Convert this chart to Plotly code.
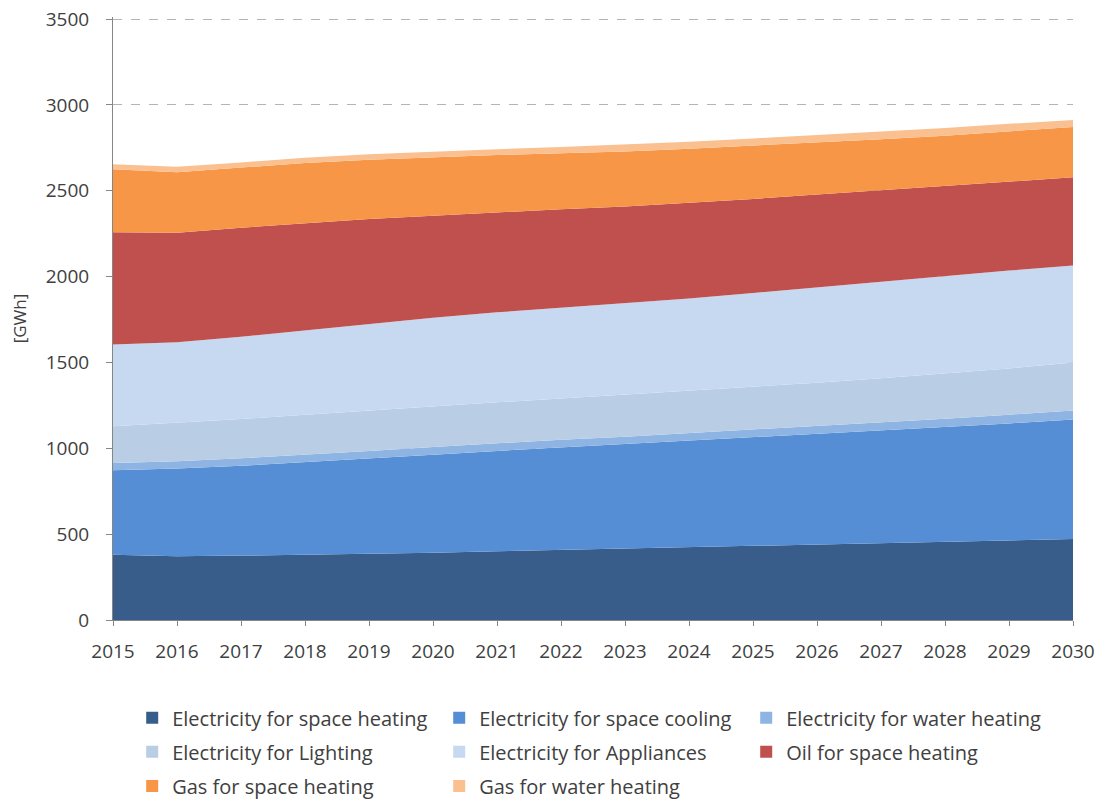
import plotly.graph_objects as go

years = list(range(2015, 2031))

elec_space_heating = [380, 372, 375, 380, 385, 392, 400, 408, 415, 423, 432, 440, 448, 456, 464, 472]
elec_space_cooling = [492, 510, 523, 538, 555, 570, 585, 597, 607, 619, 630, 642, 654, 666, 681, 696]
elec_water_heating = [43, 43, 44, 44, 45, 46, 45, 45, 46, 46, 46, 48, 48, 50, 51, 52]
elec_lighting = [213, 223, 228, 233, 235, 237, 238, 240, 244, 247, 250, 252, 258, 263, 269, 280]
elec_appliances = [477, 470, 480, 493, 505, 515, 524, 528, 530, 537, 547, 556, 562, 570, 570, 565]
oil_space_heating = [653, 637, 635, 624, 610, 595, 583, 574, 566, 556, 547, 540, 532, 523, 517, 513]
gas_space_heating = [367, 353, 350, 350, 345, 340, 333, 326, 320, 317, 310, 302, 298, 292, 293, 294]
gas_water_heating = [30, 32, 30, 30, 32, 33, 34, 37, 40, 40, 43, 45, 45, 45, 45, 40]

series = [
    ("Electricity for space heating", elec_space_heating, "#385D8A"),
    ("Electricity for space cooling", elec_space_cooling, "#558ED5"),
    ("Electricity for water heating", elec_water_heating, "#8EB4E3"),
    ("Electricity for Lighting", elec_lighting, "#B9CDE5"),
    ("Electricity for Appliances", elec_appliances, "#C6D9F1"),
    ("Oil for space heating", oil_space_heating, "#C0504D"),
    ("Gas for space heating", gas_space_heating, "#F79646"),
    ("Gas for water heating", gas_water_heating, "#FAC090"),
]

FONT = "Open Sans, Liberation Sans, Arial, sans-serif"
TEXT = "#404040"

# three legend rows, three entries per row
legend_rows = ["legend", "legend", "legend", "legend2", "legend2", "legend2", "legend3", "legend3"]

fig = go.Figure()
# stacked areas
for name, vals, color in series:
    fig.add_trace(go.Scatter(
        x=years, y=vals, name=name, mode="lines",
        stackgroup="one", line=dict(width=0, color=color),
        fillcolor=color, showlegend=False,
    ))
# square legend keys
for (name, vals, color), row in zip(series, legend_rows):
    fig.add_trace(go.Scatter(
        x=[None], y=[None], name=name, mode="markers",
        marker=dict(symbol="square", size=12, color=color),
        showlegend=True, hoverinfo="skip", legend=row,
    ))

legend_style = dict(
    orientation="h", x=0.02, xanchor="left", yanchor="top",
    entrywidth=262, entrywidthmode="pixels", traceorder="normal",
    font=dict(family=FONT, size=20, color=TEXT),
    bgcolor="rgba(0,0,0,0)",
)

fig.update_layout(
    width=1105, height=803,
    margin=dict(l=113, r=32, t=17, b=183, autoexpand=False),
    paper_bgcolor="white", plot_bgcolor="white",
    font=dict(family=FONT, size=16, color=TEXT),
    showlegend=True,
    legend=dict(y=-0.1297, **legend_style),
    legend2=dict(y=-0.1863, **legend_style),
    legend3=dict(y=-0.2429, **legend_style),
)

fig.update_xaxes(
    range=[2015, 2030], tickmode="array", tickvals=years,
    ticktext=[str(y) for y in years],
    showline=True, linecolor="#868686", linewidth=1,
    ticks="outside", tickcolor="#868686", ticklen=5,
    ticklabelstandoff=9,
    showgrid=False, zeroline=False,
    tickfont=dict(family=FONT, size=19, color=TEXT),
)
fig.update_yaxes(
    range=[0, 3512], tickmode="array", tickvals=list(range(0, 3501, 500)),
    showline=True, linecolor="#868686", linewidth=1,
    ticks="outside", tickcolor="#868686", ticklen=6,
    ticklabelstandoff=13,
    showgrid=True, gridcolor="#B4B4B4", griddash="dash", gridwidth=1,
    zeroline=False,
    tickfont=dict(family=FONT, size=19, color=TEXT),
    title=dict(text="[GWh]", font=dict(family=FONT, size=17, color=TEXT), standoff=14),
)

fig.write_html("out.html")
